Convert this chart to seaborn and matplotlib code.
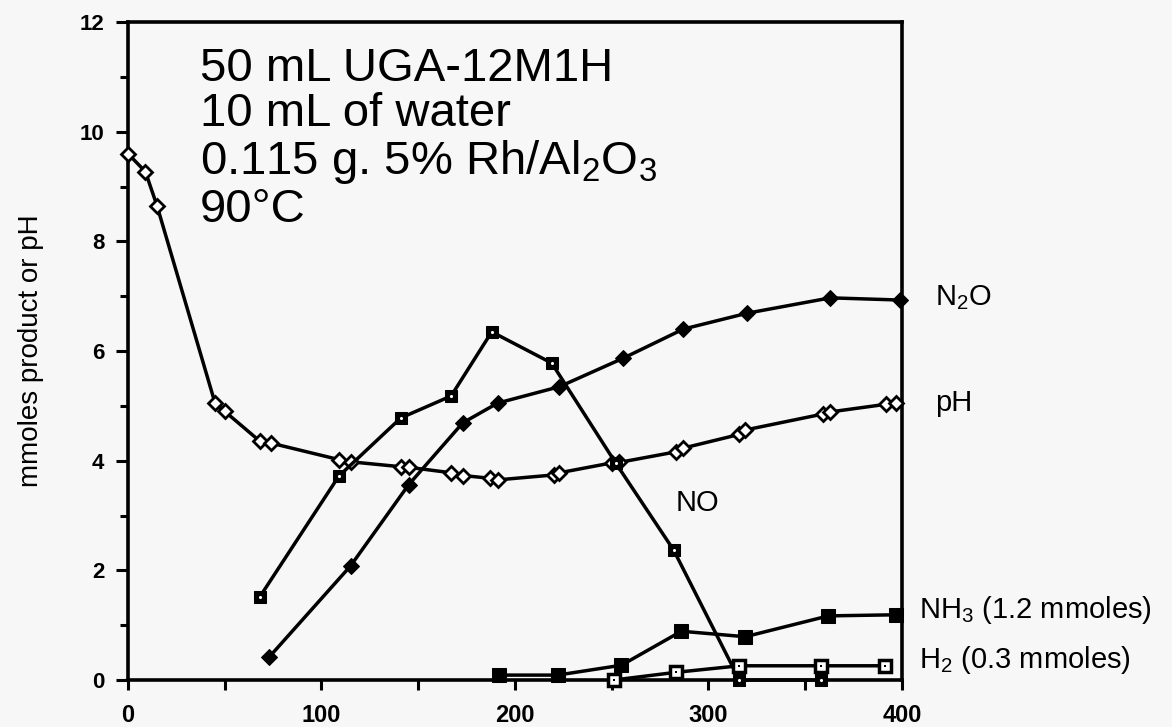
import numpy as np
import pandas as pd
import seaborn as sns
import matplotlib.pyplot as plt
from matplotlib.ticker import MultipleLocator

# values (time in min, mmoles or pH)
ph_t = [0, 9, 15, 45, 50, 68, 74, 109, 115, 141, 145, 167, 173, 187, 191,
        220, 223, 250, 254, 283, 287, 316, 319, 359, 363, 392, 397]
ph_v = [9.6, 9.27, 8.65, 5.05, 4.9, 4.36, 4.32, 4.02, 3.98, 3.89, 3.88, 3.78,
        3.73, 3.68, 3.65, 3.74, 3.78, 3.96, 3.97, 4.16, 4.23, 4.48, 4.56,
        4.85, 4.89, 5.03, 5.05]

n2o_t = [73, 115, 145, 173, 191, 223, 256, 287, 320, 363, 399]
n2o_v = [0.42, 2.08, 3.56, 4.69, 5.05, 5.35, 5.87, 6.40, 6.69, 6.97, 6.93]

no_t = [68, 109, 141, 167, 188, 219, 252, 282, 316, 358]
no_v = [1.51, 3.72, 4.78, 5.18, 6.35, 5.78, 3.96, 2.37, 0.0, 0.0]

nh3_t = [192, 222, 255, 286, 319, 362, 397]
nh3_v = [0.09, 0.09, 0.27, 0.89, 0.79, 1.17, 1.19]

h2_t = [251, 283, 316, 358, 391]
h2_v = [0.0, 0.14, 0.26, 0.26, 0.26]

x_ticks = [0, 100, 200, 300, 400]
y_ticks = [0, 2, 4, 6, 8, 10, 12]

sns.set_style("ticks")
plt.rcParams['font.family'] = ['Liberation Sans', 'DejaVu Sans']
plt.rcParams['text.color'] = 'black'
plt.rcParams['axes.labelcolor'] = 'black'
bg = '#f7f7f7'

fig = plt.figure(figsize=(11.72, 7.27), dpi=100, facecolor=bg)
ax = fig.add_axes([0.1092, 0.0646, 0.6604, 0.9051])
ax.set_facecolor(bg)

lw = 2.5
# pH: open diamonds
sns.lineplot(x=ph_t, y=ph_v, ax=ax, color='black', lw=lw, marker='D',
             markersize=7, markerfacecolor='white', markeredgecolor='black',
             markeredgewidth=2, clip_on=False, zorder=3)
# N2O: filled diamonds
sns.lineplot(x=n2o_t, y=n2o_v, ax=ax, color='black', lw=lw, marker='D',
             markersize=8, markerfacecolor='black', markeredgecolor='black',
             clip_on=False, zorder=3)
# NO: filled squares with white dot
sns.lineplot(x=no_t, y=no_v, ax=ax, color='black', lw=lw, marker='s',
             markersize=9, markerfacecolor='black', markeredgecolor='black',
             clip_on=False, zorder=4)
sns.scatterplot(x=no_t, y=no_v, ax=ax, color='white', marker='o', s=5,
                linewidth=0, clip_on=False, zorder=5)
# NH3: filled squares
sns.lineplot(x=nh3_t, y=nh3_v, ax=ax, color='black', lw=lw, marker='s',
             markersize=10, markerfacecolor='black', markeredgecolor='black',
             clip_on=False, zorder=4)
# H2: open squares with dot
sns.lineplot(x=h2_t, y=h2_v, ax=ax, color='black', lw=lw, marker='s',
             markersize=9, markerfacecolor='white', markeredgecolor='black',
             markeredgewidth=2.5, clip_on=False, zorder=4)
sns.scatterplot(x=h2_t, y=h2_v, ax=ax, color='black', marker='s', s=4,
                linewidth=0, clip_on=False, zorder=5)

ax.set_xlim(0, 400)
ax.set_ylim(0, 12)
ax.set_xticks(x_ticks)
ax.xaxis.set_minor_locator(MultipleLocator(50))
ax.set_yticks(y_ticks)
ax.yaxis.set_minor_locator(MultipleLocator(1))
ax.tick_params(axis='both', which='both', direction='out', width=2.2,
               colors='black')
ax.tick_params(axis='x', which='both', length=7, pad=10, labelsize=17)
ax.tick_params(axis='y', which='major', length=9, pad=8, labelsize=16)
ax.tick_params(axis='y', which='minor', length=6)
for lbl in ax.get_xticklabels() + ax.get_yticklabels():
    lbl.set_fontweight('bold')
for side in ['left', 'right', 'top', 'bottom']:
    ax.spines[side].set_visible(True)
    ax.spines[side].set_linewidth(2.6)
    ax.spines[side].set_color('black')

ax.set_xlabel('')
ax.set_ylabel('mmoles product or pH', fontsize=20, labelpad=26)

ax.text(37, 11.55, '50 mL UGA-12M1H\n10 mL of water\n'
        '0.115 g. 5% Rh/Al$\\mathregular{_2}$O$\\mathregular{_3}$\n90°C',
        fontsize=34, va='top', ha='left', linespacing=1.05)

lab = dict(fontsize=21, va='center', ha='left', clip_on=False)
ax.text(417, 6.97, 'N$\\mathregular{_2}$O', **lab)
ax.text(417, 5.05, 'pH', **lab)
ax.text(283, 3.23, 'NO', **lab)
ax.text(409, 1.28, 'NH$\\mathregular{_3}$ (1.2 mmoles)', **lab)
ax.text(409, 0.36, 'H$\\mathregular{_2}$ (0.3 mmoles)', **lab)

fig.savefig('out.png', dpi=100, facecolor=bg)
